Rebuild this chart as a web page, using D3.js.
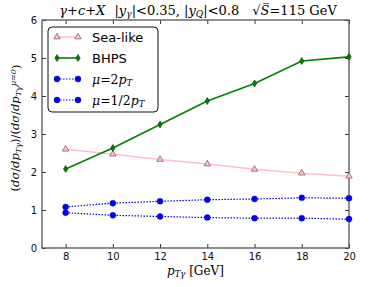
<!DOCTYPE html>
<html>
<head>
<meta charset="utf-8">
<script src="https://cdn.jsdelivr.net/npm/d3@7"></script>
<style>
body { margin: 0; background: #fff; }
svg text { font-family: "DejaVu Sans", sans-serif; }
.m { font-family: "DejaVu Serif", serif; }
</style>
</head>
<body>
<div id="chart"></div>
<script>
// data
var pt = [8, 10, 12, 14, 16, 18, 20];
var seaLike = [2.60, 2.47, 2.33, 2.21, 2.07, 1.97, 1.89];
var bhps = [2.08, 2.63, 3.25, 3.87, 4.33, 4.92, 5.03];
var mu2 = [1.08, 1.18, 1.23, 1.27, 1.29, 1.32, 1.31];
var muHalf = [0.93, 0.86, 0.83, 0.80, 0.785, 0.785, 0.76];
var xTicks = [8, 10, 12, 14, 16, 18, 20];
var yTicks = [0, 1, 2, 3, 4, 5, 6];

var margin = {top: 20, right: 25, bottom: 39, left: 42},
  width = 374 - margin.left - margin.right,
  height = 287 - margin.top - margin.bottom;

var root = d3.select("#chart").append("svg")
  .attr("width", 374).attr("height", 287);

var svg = root.append("g")
  .attr("transform", "translate(" + margin.left + "," + margin.top + ")");

var x = d3.scaleLinear().domain([7, 20]).range([0, width]);
var y = d3.scaleLinear().domain([0, 6]).range([height, 0]);

// ticks (inside, all four sides)
var axColor = "#333";
svg.append("g").attr("transform", "translate(0," + height + ")")
  .call(d3.axisBottom(x).tickValues(xTicks).tickSize(-4).tickPadding(5).tickFormat(d3.format("d")));
svg.append("g")
  .call(d3.axisTop(x).tickValues(xTicks).tickSize(-4).tickFormat(""));
svg.append("g")
  .call(d3.axisLeft(y).tickValues(yTicks).tickSize(-4).tickPadding(5).tickFormat(d3.format("d")));
svg.append("g").attr("transform", "translate(" + width + ",0)")
  .call(d3.axisRight(y).tickValues(yTicks).tickSize(-4).tickFormat(""));
svg.selectAll(".domain").remove();
svg.selectAll(".tick line").attr("stroke", axColor);
svg.selectAll(".tick text").attr("font-size", 10).attr("fill", "#111")
  .attr("font-family", "DejaVu Sans");

svg.append("rect").attr("width", width).attr("height", height)
  .attr("fill", "none").attr("stroke", "#555").attr("stroke-width", 1.3);

var line = d3.line().x(function(d) { return x(d[0]); }).y(function(d) { return y(d[1]); });
function pairs(v) { return pt.map(function(p, i) { return [p, v[i]]; }); }

// series
var series = [
  {name: "Sea-like", data: seaLike, color: "pink", width: 1.5, dash: null, marker: "tri"},
  {name: "BHPS", data: bhps, color: "green", width: 1.6, dash: null, marker: "dia"},
  {name: "mu2", data: mu2, color: "blue", width: 1.2, dash: "1.5,1.5", marker: "dot"},
  {name: "muHalf", data: muHalf, color: "blue", width: 1.2, dash: "1.5,1.5", marker: "dot"}
];

function drawMarker(g, kind, cx, cy) {
  if (kind === "tri") {
    g.append("path").attr("d", d3.symbol().type(d3.symbolTriangle).size(18)())
      .attr("transform", "translate(" + cx + "," + cy + ")")
      .attr("fill", "#f4c8cc").attr("stroke", "#8a4a4a").attr("stroke-width", 0.7);
  } else if (kind === "dia") {
    g.append("path").attr("d", "M0,-3.5L2.2,0L0,3.5L-2.2,0Z")
      .attr("transform", "translate(" + cx + "," + cy + ")")
      .attr("fill", "green").attr("stroke", "#0a3a0a").attr("stroke-width", 0.6);
  } else {
    g.append("circle").attr("cx", cx).attr("cy", cy).attr("r", 3)
      .attr("fill", "blue").attr("stroke", "#00008b").attr("stroke-width", 0.4);
  }
}

series.forEach(function(s) {
  svg.append("path").datum(pairs(s.data)).attr("d", line)
    .attr("fill", "none").attr("stroke", s.color).attr("stroke-width", s.width)
    .attr("stroke-dasharray", s.dash);
  var g = svg.append("g");
  pairs(s.data).forEach(function(d) { drawMarker(g, s.marker, x(d[0]), y(d[1])); });
});

function addMath(t, segs) {
  segs.forEach(function(sg) {
    var ts = t.append("tspan").text(sg[0]);
    if (sg[1] === "i") ts.attr("font-style", "italic");
    if (sg[1] === "sub") ts.attr("font-style", "italic").attr("font-size", "0.7em").attr("dy", "0.25em");
    if (sg[1] === "up") ts.attr("dy", "-0.175em");
    if (sg[1] === "sup") ts.attr("font-style", "italic").attr("font-size", "0.7em").attr("dy", "-0.65em");
    if (sg[1] === "down") ts.attr("dy", "0.4em");
  });
}

// legend
var leg = svg.append("g").attr("transform", "translate(6,7)");
leg.append("rect").attr("width", 110).attr("height", 85).attr("rx", 4)
  .attr("fill", "#fff").attr("stroke", "#111").attr("stroke-width", 1);
var legItems = [
  {s: series[0], label: [["Sea-like", "t"]]},
  {s: series[1], label: [["BHPS", "t"]]},
  {s: series[2], label: [["μ", "i"], ["=2", "n"], ["p", "i"], ["T", "sub"]]},
  {s: series[3], label: [["μ", "i"], ["=1/2", "n"], ["p", "i"], ["T", "sub"]]}
];
legItems.forEach(function(it, i) {
  var yy = 10 + i * 21;
  leg.append("line").attr("x1", 9).attr("x2", 30).attr("y1", yy).attr("y2", yy)
    .attr("stroke", it.s.color).attr("stroke-width", it.s.width)
    .attr("stroke-dasharray", it.s.dash);
  drawMarker(leg, it.s.marker, 9, yy);
  drawMarker(leg, it.s.marker, 30, yy);
  var t = leg.append("text").attr("x", 44).attr("y", yy + 5);
  if (it.label[0][1] === "t") {
    t.attr("font-size", 13).attr("font-family", "DejaVu Sans").text(it.label[0][0]);
  } else {
    t.attr("class", "m").attr("font-size", 12.5);
    addMath(t, it.label);
  }
});

// title
var title = root.append("text").attr("class", "m").attr("x", 198).attr("y", 15)
  .attr("text-anchor", "middle").attr("font-size", 13);
addMath(title, [["γ", "i"], ["+", "n"], ["c", "i"], ["+", "n"], ["X", "i"],
  ["\u2002\u2009|", "n"], ["y", "i"], ["γ", "sub"], ["|<0.35, |", "up"], ["y", "i"], ["Q", "sub"],
  ["|<0.8\u2002\u2002√", "up"], ["S\u0305", "i"], ["=115 GeV", "n"]]);

// x label
var xl = root.append("text").attr("class", "m").attr("x", margin.left + width / 2).attr("y", 275)
  .attr("text-anchor", "middle").attr("font-size", 12);
addMath(xl, [["p", "i"], ["Tγ", "sub"], [" [GeV]", "up"]]);

// y label
var yl = root.append("text").attr("class", "m")
  .attr("transform", "translate(19," + (margin.top + height / 2 - 6) + ") rotate(-90)")
  .attr("text-anchor", "middle").attr("font-size", 11.5);
addMath(yl, [["(", "n"], ["dσ", "i"], ["/", "n"], ["dp", "i"], ["Tγ", "sub"], [")/(", "up"],
  ["dσ", "i"], ["/", "n"], ["dp", "i"], ["Tγ", "sub"], ["μ=0", "sup"], [")", "down"]]);
</script>
</body>
</html>
